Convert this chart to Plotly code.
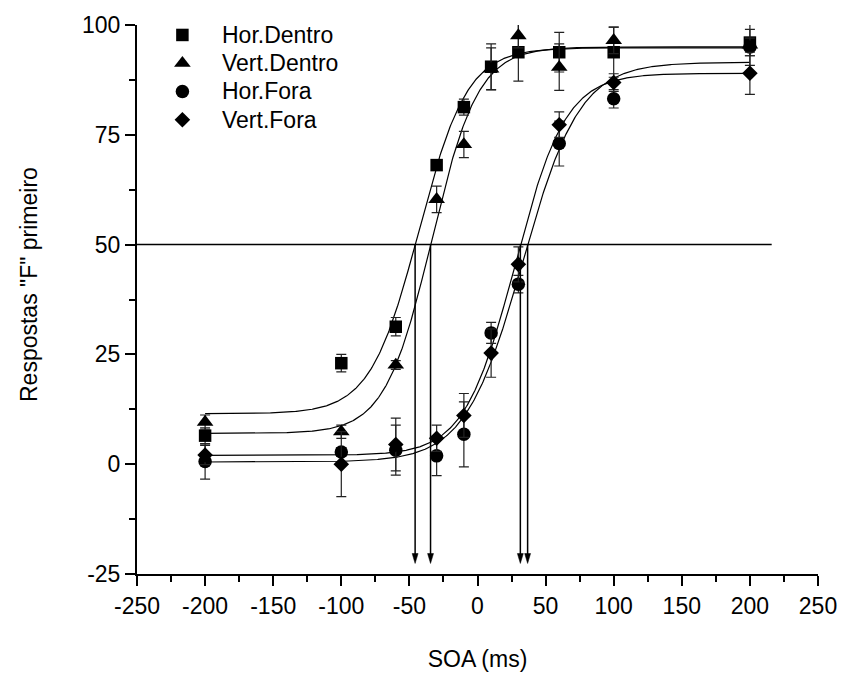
import numpy as np
import plotly.graph_objects as go

# ---------------- data ----------------
soa = [-200, -100, -60, -30, -10, 10, 30, 60, 100, 200]

series_names = ["Hor.Dentro", "Vert.Dentro", "Hor.Fora", "Vert.Fora"]

hor_dentro = [6.5, 23.0, 31.3, 68.1, 81.3, 90.5, 93.8, 93.8, 93.8, 96.0]
hor_dentro_err = [1.8, 2.0, 2.1, 1.0, 1.8, 5.2, 6.6, 4.5, 5.7, 3.0]

vert_dentro = [9.6, 7.4, 22.6, 60.3, 72.8, 90.0, 97.6, 90.4, 96.5, 95.5]
vert_dentro_err = [1.6, 1.5, 1.0, 3.0, 3.0, 4.8, 2.8, 5.3, 3.0, 4.7]

hor_fora = [0.6, 2.8, 3.2, 1.9, 6.8, 29.9, 41.0, 73.0, 83.2, 95.0]
hor_fora_err = [4.0, 1.0, 5.7, 4.5, 7.4, 2.4, 2.0, 5.1, 2.1, 2.0]

vert_fora = [2.1, 0.0, 4.5, 5.9, 11.1, 25.3, 45.5, 77.3, 86.9, 89.0]
vert_fora_err = [2.2, 7.4, 6.0, 3.0, 5.0, 5.5, 4.0, 2.9, 2.0, 4.8]

# Boltzmann fit parameters (A1 bottom, A2 top, x0 centre, dx width)
fit_A1 = [11.5, 7.0, 0.5, 2.0]
fit_A2 = [94.8, 95.0, 91.5, 89.0]
fit_x0 = [-43.1, -33.7, 33.1, 27.6]
fit_dx = [17.8, 17.1, 21.0, 18.6]

criterion = 50
ref_line_end = 216
arrow_tip = -22.6

x_ticks = [-250, -200, -150, -100, -50, 0, 50, 100, 150, 200, 250]
y_ticks = [-25, 0, 25, 50, 75, 100]

values = [hor_dentro, vert_dentro, hor_fora, vert_fora]
errors = [hor_dentro_err, vert_dentro_err, hor_fora_err, vert_fora_err]
symbols = ["square", "triangle-up", "circle", "diamond"]
sizes = [12.5, 14.5, 13.5, 12]

FONT = "Liberation Sans, Arial, Helvetica, sans-serif"
FS = 23

W, H = 849, 681
ML, MR, MT, MB = 137, 22, 22, 107
XR = (-250, 250)
YR = (-25, 100)
PW, PH = W - ML - MR, H - MT - MB
px_x = PW / (XR[1] - XR[0])
px_y = PH / (YR[1] - YR[0])

# legend placement (pixels)
LEG_MARKER_X = 183
LEG_TEXT_X = 221
LEG_ROW0 = 32
LEG_ROW_STEP = 28.4


def boltz(x, a1, a2, x0, dx):
    return a2 + (a1 - a2) / (1 + np.exp((x - x0) / dx))


fig = go.Figure()

xs = np.linspace(min(soa), max(soa), 801)
for a1, a2, x0, dx in zip(fit_A1, fit_A2, fit_x0, fit_dx):
    fig.add_trace(go.Scatter(x=xs, y=boltz(xs, a1, a2, x0, dx), mode="lines",
                             line=dict(color="black", width=1.2),
                             showlegend=False, hoverinfo="skip"))

for name, v, e, s, sz in zip(series_names, values, errors, symbols, sizes):
    fig.add_trace(go.Scatter(
        x=soa, y=v, mode="markers", name=name, showlegend=False,
        marker=dict(symbol=s, size=sz, color="black", line=dict(width=0)),
        error_y=dict(type="data", array=e, visible=True, color="#222",
                     thickness=1.2, width=5),
    ))

# manual legend on a pixel-coordinate overlay axis
leg_y = [LEG_ROW0 + i * LEG_ROW_STEP for i in range(len(series_names))]
for i, (name, s, sz) in enumerate(zip(series_names, symbols, sizes)):
    fig.add_trace(go.Scatter(x=[LEG_MARKER_X], y=[leg_y[i]], xaxis="x2", yaxis="y2",
                             mode="markers", showlegend=False, hoverinfo="skip",
                             cliponaxis=False,
                             marker=dict(symbol=s, size=sz, color="black", line=dict(width=0))))

annotations = []
for i, name in enumerate(series_names):
    annotations.append(dict(x=LEG_TEXT_X, y=leg_y[i], xref="x2", yref="y2", text=name,
                            showarrow=False, xanchor="left", yanchor="middle",
                            font=dict(family=FONT, size=FS, color="black")))
annotations.append(dict(x=(27 - ML) / PW, y=(H - MB - 283) / PH, xref="paper", yref="paper",
                        text='Respostas "F" primeiro', textangle=-90, showarrow=False,
                        xanchor="center", yanchor="middle",
                        font=dict(family=FONT, size=FS, color="black")))

shapes = []
shapes.append(dict(type="line", xref="x", yref="y", x0=XR[0], x1=ref_line_end,
                   y0=criterion, y1=criterion, line=dict(color="black", width=1.5)))
head_len = 10 / px_y
head_half = 3 / px_x
for a1, a2, x0, dx in zip(fit_A1, fit_A2, fit_x0, fit_dx):
    u = np.log((a1 - a2) / (criterion - a2) - 1)
    xc = x0 + u * dx
    shapes.append(dict(type="line", xref="x", yref="y", x0=xc, x1=xc,
                       y0=criterion, y1=arrow_tip + head_len * 0.8,
                       line=dict(color="black", width=1.5)))
    path = (f"M {xc - head_half},{arrow_tip + head_len} L {xc + head_half},{arrow_tip + head_len} "
            f"L {xc},{arrow_tip} Z")
    shapes.append(dict(type="path", xref="x", yref="y", path=path,
                       fillcolor="black", line=dict(color="black", width=0.5)))

fig.update_layout(
    width=W, height=H,
    margin=dict(l=ML, r=MR, t=MT, b=MB),
    paper_bgcolor="white", plot_bgcolor="white",
    font=dict(family=FONT, size=FS, color="black"),
    shapes=shapes, annotations=annotations,
    showlegend=False,
    xaxis2=dict(overlaying="x", range=[ML, W - MR], visible=False, fixedrange=True),
    yaxis2=dict(overlaying="y", range=[H - MB, MT], visible=False, fixedrange=True),
    xaxis=dict(range=list(XR), tickvals=x_ticks, ticktext=[str(t) for t in x_ticks],
               showline=True, linecolor="black", linewidth=2,
               ticks="outside", ticklen=10, tickwidth=2, tickcolor="black",
               minor=dict(dtick=25, ticks="outside", ticklen=6, tickwidth=2, tickcolor="black", tick0=0),
               showgrid=False, zeroline=False,
               tickfont=dict(family=FONT, size=FS),
               title=dict(text="SOA (ms)", font=dict(family=FONT, size=FS), standoff=33)),
    yaxis=dict(range=list(YR), tickvals=y_ticks, ticktext=[str(t) for t in y_ticks],
               showline=True, linecolor="black", linewidth=2,
               ticks="outside", ticklen=10, tickwidth=2, tickcolor="black",
               minor=dict(dtick=12.5, ticks="outside", ticklen=6, tickwidth=2, tickcolor="black", tick0=0),
               showgrid=False, zeroline=False,
               tickfont=dict(family=FONT, size=FS)),
)

fig.write_html("out.html")
